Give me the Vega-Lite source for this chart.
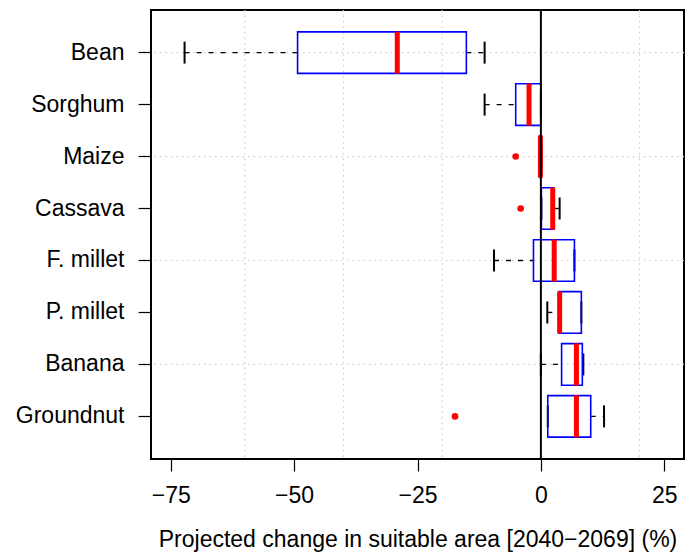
{
  "$schema": "https://vega.github.io/schema/vega-lite/v6.json",
  "autosize": "none",
  "width": 533,
  "height": 449,
  "padding": {"left": 151, "top": 10, "right": 6, "bottom": 95},
  "background": "white",
  "config": {
    "view": {"stroke": "black", "strokeWidth": 2},
    "font": "Liberation Sans",
    "axis": {"labelFont": "Liberation Sans", "titleFont": "Liberation Sans"}
  },
  "datasets": {
    "stats": [
      {"crop": "Bean", "lower": -72.2, "q1": -49.3, "median": -29.1, "q3": -15.1, "upper": -11.4},
      {"crop": "Sorghum", "lower": -11.4, "q1": -5.1, "median": -2.4, "q3": 0.0, "upper": 0.0},
      {"crop": "Maize", "lower": -0.2, "q1": -0.2, "median": -0.1, "q3": 0.1, "upper": 0.1},
      {"crop": "Cassava", "lower": 0.1, "q1": 0.1, "median": 2.4, "q3": 2.6, "upper": 3.8},
      {"crop": "F. millet", "lower": -9.5, "q1": -1.5, "median": 2.7, "q3": 6.8, "upper": 6.8},
      {"crop": "P. millet", "lower": 1.3, "q1": 3.7, "median": 3.8, "q3": 8.2, "upper": 8.2},
      {"crop": "Banana", "lower": 0.0, "q1": 4.2, "median": 7.2, "q3": 8.4, "upper": 8.6},
      {"crop": "Groundnut", "lower": 1.4, "q1": 1.4, "median": 7.2, "q3": 10.1, "upper": 12.8}
    ],
    "outliers": [
      {"crop": "Maize", "value": -5.1},
      {"crop": "Cassava", "value": -4.1},
      {"crop": "Groundnut", "value": -17.4}
    ],
    "xgrid": [{"v": -60}, {"v": -40}, {"v": -20}, {"v": 20}],
    "ygrid": [{"crop": "Bean"}, {"crop": "Maize"}, {"crop": "F. millet"}, {"crop": "Banana"}],
    "zero": [{"v": 0}]
  },
  "encoding": {
    "y": {
      "field": "crop",
      "type": "nominal",
      "sort": ["Bean", "Sorghum", "Maize", "Cassava", "F. millet", "P. millet", "Banana", "Groundnut"],
      "scale": {"domain": ["Bean", "Sorghum", "Maize", "Cassava", "F. millet", "P. millet", "Banana", "Groundnut"], "paddingInner": 0, "paddingOuter": 0.32},
      "axis": {
        "title": null,
        "domain": false,
        "grid": false,
        "ticks": true,
        "tickSize": 13,
        "tickColor": "black",
        "tickWidth": 1.2,
        "labelFontSize": 23,
        "labelColor": "black",
        "labelPadding": 14
      }
    }
  },
  "layer": [
    {
      "data": {"name": "xgrid"},
      "mark": {"type": "rule", "color": "#cccccc", "strokeWidth": 1.2, "strokeDash": [1.5, 4]},
      "encoding": {"x": {"field": "v", "type": "quantitative"}, "y": null}
    },
    {
      "data": {"name": "ygrid"},
      "mark": {"type": "rule", "color": "#cccccc", "strokeWidth": 1.2, "strokeDash": [1.5, 4]},
      "encoding": {"y": {"field": "crop", "type": "nominal"}}
    },
    {
      "data": {"name": "stats"},
      "mark": {"type": "rule", "color": "black", "strokeWidth": 1.4, "strokeDash": [5, 7]},
      "encoding": {"x": {"field": "lower", "type": "quantitative"}, "x2": {"field": "q1"}}
    },
    {
      "data": {"name": "stats"},
      "mark": {"type": "rule", "color": "black", "strokeWidth": 1.4, "strokeDash": [5, 7]},
      "encoding": {"x": {"field": "q3", "type": "quantitative"}, "x2": {"field": "upper"}}
    },
    {
      "data": {"name": "stats"},
      "mark": {"type": "tick", "color": "black", "opacity": 1, "size": 22, "thickness": 2},
      "encoding": {"x": {"field": "lower", "type": "quantitative"}}
    },
    {
      "data": {"name": "stats"},
      "mark": {"type": "tick", "color": "black", "opacity": 1, "size": 22, "thickness": 2},
      "encoding": {"x": {"field": "upper", "type": "quantitative"}}
    },
    {
      "data": {"name": "stats"},
      "mark": {"type": "bar", "filled": false, "stroke": "#0000ff", "strokeWidth": 1.6, "height": {"band": 0.8}},
      "encoding": {
        "x": {
          "field": "q1",
          "type": "quantitative",
          "scale": {"domain": [-79, 29], "nice": false, "zero": false},
          "axis": {
            "values": [-75, -50, -25, 0, 25],
            "grid": false,
            "domain": false,
            "tickSize": 12,
            "tickColor": "black",
            "tickWidth": 1.2,
            "labelFontSize": 23,
            "labelColor": "black",
            "labelPadding": 13,
            "labelFlush": false,
            "format": "d",
            "labelExpr": "replace(datum.label, '-', '\u2212')",
            "title": "Projected change in suitable area [2040\u22122069] (%)",
            "titleFontSize": 23,
            "titleFontWeight": "normal",
            "titleColor": "black",
            "titlePadding": 21
          }
        },
        "x2": {"field": "q3"}
      }
    },
    {
      "data": {"name": "stats"},
      "mark": {"type": "tick", "color": "#ff0000", "opacity": 1, "size": 42, "thickness": 5},
      "encoding": {"x": {"field": "median", "type": "quantitative"}}
    },
    {
      "data": {"name": "outliers"},
      "mark": {"type": "circle", "color": "#ff0000", "opacity": 1, "size": 44},
      "encoding": {"x": {"field": "value", "type": "quantitative"}}
    },
    {
      "data": {"name": "zero"},
      "mark": {"type": "rule", "color": "black", "strokeWidth": 2},
      "encoding": {"x": {"field": "v", "type": "quantitative"}, "y": null}
    }
  ]
}
